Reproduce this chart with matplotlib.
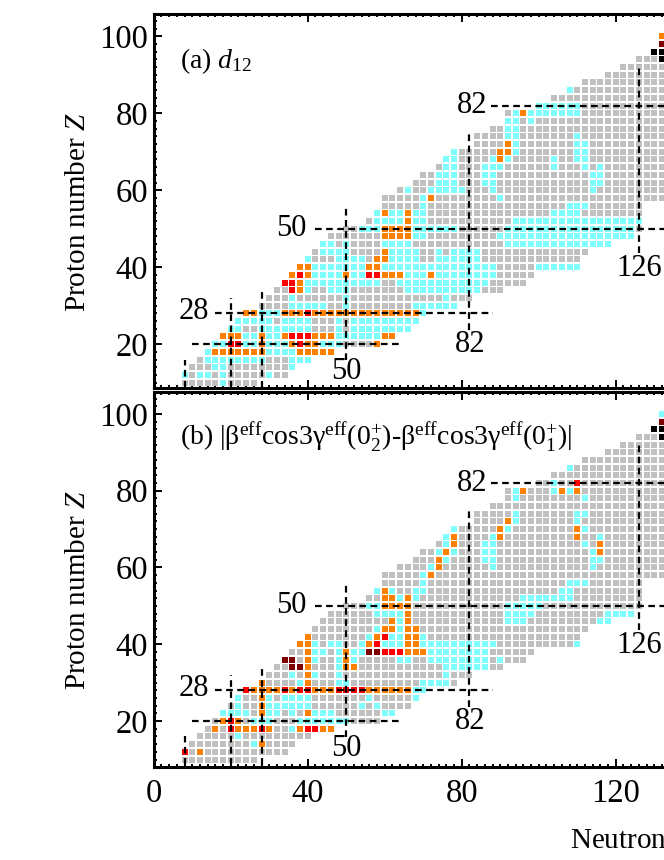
import matplotlib
matplotlib.use("Agg")
import matplotlib.pyplot as plt

plt.rcParams["font.family"] = ["Liberation Serif", "DejaVu Serif"]
plt.rcParams["mathtext.fontset"] = "custom"
plt.rcParams["mathtext.rm"] = "Liberation Serif"
plt.rcParams["mathtext.it"] = "Liberation Serif:italic"
plt.rcParams["mathtext.bf"] = "Liberation Serif:bold"

# nuclei outline: even Z rows, first and last even N visible
z_rows = list(range(10, 102, 2))
n_first = [8, 8, 10, 12, 14, 16, 18, 20, 22, 24, 28, 30, 32, 34, 36, 38, 40, 42, 44, 46, 50, 56, 58,
           60, 60, 64, 68, 70, 74, 76, 78, 84, 84, 88, 92, 92, 100, 104, 108, 112, 118, 122, 126, 130, 132, 132]
n_last = [26, 34, 36, 40, 46, 58, 62, 66, 68, 70, 78, 82, 90, 96, 98, 110, 110, 112, 118, 124, 126, 126, 126,
          126, 132, 132, 132, 132, 132, 132, 132, 132, 132, 132, 132, 132, 132, 132, 132, 132, 132, 132, 132, 132, 132, 132]

# panel (a) coloured cells, {Z: [N, ...]}
cyan_a = {
    10: [18], 12: [8, 12, 14, 18, 30], 14: [16, 18, 36],
    16: [14, 16, 18, 20, 22, 24, 26, 28, 36, 38, 40],
    18: [14, 30, 32, 34, 36],
    20: [16, 18, 24, 26, 30, 32, 34, 44, 46, 48],
    22: [24, 26, 30, 32, 48, 50, 52, 54, 56, 58],
    24: [20, 22, 28, 30, 32, 34, 36, 38, 40, 48, 52, 54, 56, 58, 60, 62, 64, 66],
    26: [22, 24, 26, 28, 30, 34, 36, 38, 40, 48, 52, 54, 56, 58, 60, 62, 64, 66, 68],
    28: [28, 30, 32, 70],
    30: [36, 38, 40, 42, 44, 50, 68, 70, 72, 74, 76, 78],
    32: [36, 50, 76],
    34: [40, 46, 48, 50, 66, 68, 70, 72, 74, 76, 78, 80, 82, 84],
    36: [40, 42, 44, 46, 48, 50, 52, 54, 56, 58, 64, 66, 68, 70, 72, 74, 76, 78, 80, 82, 84, 86],
    38: [42, 44, 46, 48, 52, 54, 66, 68, 70, 74, 76, 78, 80, 82, 84, 86, 88],
    40: [42, 44, 46, 48, 50, 52, 54, 60, 62, 64, 66, 68, 70, 72, 74, 76, 78, 80, 82, 84, 86, 88,
         100, 102, 104, 106, 108, 110],
    42: [40, 48, 50, 52, 54, 62, 64, 66, 68, 74, 76, 78, 80, 82, 84],
    44: [44, 46, 48, 50, 62, 64, 66, 68, 74, 78, 80, 82, 84],
    46: [44, 46, 50, 60, 62, 64, 66, 92, 94, 96, 98, 100, 102, 104, 106, 108, 110, 112, 114, 116, 118],
    48: [68, 70, 90, 92, 94, 96, 98, 100, 102, 104, 106, 108, 110, 112, 114, 116, 118, 120, 122, 124],
    50: [54, 56, 58, 68, 70, 72, 74, 76, 78, 92, 94, 96, 98, 100, 102, 104, 106, 108, 110, 112,
         114, 116, 118, 120, 122, 124],
    52: [58, 60, 62, 64, 68, 70, 94, 96, 98, 100, 102, 104, 106, 108, 110, 112, 114, 116, 118, 120, 122, 124, 126],
    54: [58, 62, 64, 68, 70, 104, 106, 108, 110],
    56: [70, 108, 110, 112], 58: [70, 90], 60: [66, 72, 74, 76, 78, 80, 88, 114],
    62: [74, 76, 78, 86, 88, 114, 116], 64: [74, 76, 78, 86, 88, 114, 116],
    66: [76, 78, 86, 88, 90, 104, 112, 116], 68: [76, 78, 88, 92, 104, 110, 112],
    70: [78, 94, 110, 112], 72: [94, 110, 112], 74: [92, 94, 110], 76: [92, 94],
    78: [92, 94, 98], 80: [94, 98, 100, 102, 104, 106, 108, 110],
    82: [100, 102, 104, 106, 108, 110], 86: [108],
}
orange_a = {
    18: [16, 18, 20, 22, 24, 26, 28, 38, 40, 42, 44, 46],
    20: [28, 36, 40, 42, 58],
    22: [18, 20, 22, 28, 34, 42, 44, 46, 60, 62],
    28: [24, 26, 34, 36, 38, 42, 44, 46, 48, 50, 52, 54, 56, 58, 60, 62, 64, 66, 68],
    34: [38], 36: [38], 38: [36, 40, 50, 60, 62, 64, 72], 40: [38, 40, 56, 58], 42: [58, 60], 44: [60],
    48: [60, 62, 64, 66], 50: [60, 62, 64, 66], 52: [66], 54: [60, 66], 58: [72],
    68: [90], 70: [90, 92], 72: [92], 80: [96], 100: [132],
}
red_a = {20: [20, 22, 38], 22: [36, 38, 40], 28: [40], 34: [36], 36: [34, 36], 38: [38, 56, 58]}
dark_a = {98: [132]}
black_a = {94: [132], 96: [130, 132]}

# panel (b) coloured cells
cyan_b = {
    14: [26], 16: [22], 18: [36],
    20: [26, 28, 30, 38, 40, 42, 44, 46, 48, 50],
    22: [18, 20, 22, 24, 30, 32, 36, 42, 44, 46, 60, 62],
    24: [22, 28, 30, 32, 34, 36, 38, 40, 54, 58],
    26: [22, 30, 34, 36, 38, 40, 56, 68], 28: [68, 70],
    30: [38, 48, 50, 70, 72, 74, 76], 32: [36, 42, 48, 76], 34: [48, 76, 78, 80, 82, 84, 86],
    36: [42, 48, 52, 64, 66, 72, 74, 76, 78, 80, 82, 84, 86, 90],
    38: [42, 44, 48, 52, 54, 72, 74, 76, 78, 80, 82, 84, 86],
    40: [42, 46, 48, 54, 60, 62, 64, 70, 72, 74, 76, 78, 80, 82, 84, 86, 88, 110],
    42: [56, 62, 64, 70], 44: [58, 64], 46: [64, 92, 94, 96, 116, 118],
    48: [58, 60, 62, 64, 92, 94, 96, 98, 118, 120, 122, 124],
    50: [56, 58, 92, 94, 96, 98, 100],
    52: [64, 68, 96, 98, 100, 102, 104, 106, 108],
    54: [58, 62, 68, 70, 106, 108], 56: [70, 108, 110, 112], 58: [70],
    60: [72, 88, 114], 62: [76, 86, 88, 114, 116], 64: [74, 78, 86, 88, 114],
    66: [76, 86, 88, 112], 68: [76, 88, 116], 70: [78, 92, 112], 72: [94, 110],
    74: [94, 110, 112], 78: [94, 112], 80: [94, 104, 108], 82: [104], 86: [108], 100: [132],
}
orange_b = {
    12: [12], 14: [28], 18: [16, 22, 24, 26, 30, 38, 44, 46], 20: [18, 22],
    22: [28, 40], 24: [28], 26: [28],
    28: [26, 28, 30, 32, 36, 42, 44, 46, 56, 58, 60, 62, 64, 66],
    30: [28, 40], 32: [40], 34: [40, 50, 52], 36: [40, 50], 38: [40, 50, 66, 68, 70],
    40: [38, 40, 56, 66, 68], 42: [40, 58, 66, 68], 44: [60, 62, 66, 68], 46: [62, 66],
    48: [66], 50: [60, 62, 64, 66], 52: [60, 62, 66], 54: [60], 58: [72],
    60: [74], 62: [74], 64: [76, 116], 66: [78, 116], 68: [78, 90, 110], 70: [90, 110],
    72: [92], 80: [96, 106, 110],
}
red_b = {12: [8], 18: [20, 28, 40, 42], 20: [20], 28: [24, 34, 38, 40, 48, 50, 52, 54],
         38: [60, 62, 64], 40: [58], 42: [60], 82: [110]}
dark_b = {34: [36, 38], 36: [34, 36], 38: [56, 58], 98: [132]}
black_b = {94: [132], 96: [130, 132]}

# magic number guide lines: (fixed value, start, stop)
h_guides = [(82, 87.6, 140), (50, 41.9, 140), (28, 16, 88), (20, 9.9, 64)]
v_guides = [(126, 43.7, 92.7), (82, 23.6, 75.4), (50, 15.8, 56), (28, 0, 34.2), (20, 0, 32), (8, 0, 16)]
magic_labels = [("82", 82.7, 82), ("50", 35.8, 50), ("28", 10.5, 28.4),
                ("50", 50, 12.9), ("82", 82.3, 20), ("126", 126, 39.7)]

colors = {"grey": "#c0c0c0", "cyan": "#80ffff", "orange": "#ff8000",
          "red": "#ff0000", "dark": "#7f0000", "black": "#000000"}


def draw_panel(ax, cyan, orange, red, dark, black, title):
    owner = {}
    for z, first, last in zip(z_rows, n_first, n_last):
        for n in range(first, last + 1, 2):
            owner[(n, z)] = "grey"
    for name, cells in [("cyan", cyan), ("orange", orange), ("red", red), ("dark", dark), ("black", black)]:
        for z, ns in cells.items():
            for n in ns:
                owner[(n, z)] = name
    for name, col in colors.items():
        pts = [k for k, v in owner.items() if v == name]
        ax.scatter([p[0] for p in pts], [p[1] for p in pts], marker="s", s=15.5, color=col, linewidths=0, zorder=2)

    for z, start, stop in h_guides:
        ax.plot([start, stop], [z, z], color="k", lw=1.6, dashes=(3, 2), zorder=3)
    for n, start, stop in v_guides:
        ax.plot([n, n], [start, stop], color="k", lw=1.6, dashes=(3, 2), zorder=3)
    for txt, n, z in magic_labels:
        ax.text(n, z, txt, fontsize=22, ha="center", va="center", zorder=4)

    ax.text(6.8, 91.6, title, fontsize=20, ha="left", va="baseline")
    ax.set_xlim(0, 140)
    ax.set_xticks(range(0, 141, 40))
    ax.set_xticks(range(0, 141, 2), minor=True)
    ax.set_yticks(range(20, 101, 20))
    ax.set_yticks(range(10, 106, 2), minor=True)
    ax.tick_params(which="major", direction="in", length=6, width=1.4, top=True, labelsize=23.5, pad=4)
    ax.tick_params(which="minor", direction="in", length=2.5, width=1.4, top=True)
    ax.tick_params(axis="x", which="major", pad=8)
    for s in ax.spines.values():
        s.set_linewidth(2.2)


W, H = 664, 860
fig = plt.figure(figsize=(W / 100, H / 100), dpi=100)
ax_a = fig.add_axes([153.7 / W, 1 - 387.5 / H, 539 / W, 374 / H])
ax_b = fig.add_axes([153.7 / W, 1 - 767 / H, 539 / W, 375 / H])

draw_panel(ax_a, cyan_a, orange_a, red_a, dark_a, black_a, r"(a) $\mathit{d}_{12}$")
ax_a.set_ylim(8.75, 105.9)
ax_a.tick_params(axis="x", which="both", labelbottom=False)

draw_panel(ax_b, cyan_b, orange_b, red_b, dark_b, black_b,
           r"(b) |β$^{\mathrm{eff}}$cos3γ$^{\mathrm{eff}}$(0$_{2}^{+}$)-β$^{\mathrm{eff}}$cos3γ$^{\mathrm{eff}}$(0$_{1}^{+}$)|")
ax_b.set_ylim(8.05, 105.7)

fig.text(78 / W, 1 - 212 / H, r"Proton number $\mathit{Z}$", fontsize=21, rotation=90, ha="center", va="center")
fig.text(78 / W, 1 - 590 / H, r"Proton number $\mathit{Z}$", fontsize=21, rotation=90, ha="center", va="center")
fig.text(570 / W, 1 - 848 / H, r"Neutron number $\mathit{N}$", fontsize=21, ha="left", va="baseline")

fig.savefig("out.png", dpi=100)
